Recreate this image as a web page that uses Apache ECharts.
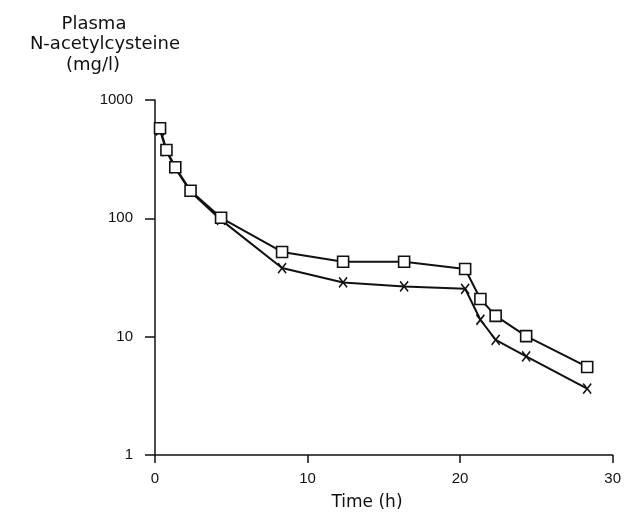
<!DOCTYPE html>
<html>
<head>
<meta charset="utf-8">
<script src="https://cdn.jsdelivr.net/npm/echarts@6/dist/echarts.min.js"></script>
<style>
  html, body { margin: 0; padding: 0; background: #fff; }
  #chart { width: 624px; height: 515px; }
</style>
</head>
<body>
<div id="chart"></div>
<script>
// sampling times (h)
var times = [0.33, 0.75, 1.33, 2.33, 4.33, 8.33, 12.33, 16.33, 20.33, 21.33, 22.33, 24.33, 28.33]
// plasma concentration (mg/l), squares
var squareValues = [577, 378, 270, 171, 101, 52, 43, 43, 37.3, 20.8, 15.0, 10.1, 5.55]
// plasma concentration (mg/l), crosses
var crossValues = [555, 370, 265, 168, 97, 38, 28.7, 26.6, 25.4, 13.9, 9.4, 6.8, 3.64]
var xTicks = [0, 10, 20, 30]
var yTicks = [1, 10, 100, 1000]
var titleLines = ['Plasma', 'N-acetylcysteine', '(mg/l)']

var tickFont = 'Liberation Sans'
var chart = echarts.init(document.getElementById('chart'))

function pairs(xs, ys) {
  return xs.map(function (x, i) { return [x, ys[i]] })
}

var titleX = [94, 105, 93]
var titleY = [24, 44, 65]

var graphics = titleLines.map(function (t, i) {
  return {
    type: 'text',
    x: titleX[i], y: titleY[i],
    style: {
      text: t, font: '18px "DejaVu Sans"', fill: '#111',
      textAlign: 'center', textVerticalAlign: 'middle'
    }
  }
})
graphics.push({
  type: 'text',
  x: 367, y: 503,
  style: {
    text: 'Time (h)', font: '17px "DejaVu Sans"', fill: '#111',
    textAlign: 'center', textVerticalAlign: 'middle'
  }
})

var option = {
  animation: false,
  backgroundColor: '#fff',
  grid: { left: 155, right: 7, top: 100, bottom: 60, containLabel: false },
  graphic: graphics,
  xAxis: {
    type: 'value',
    min: 0,
    max: 30,
    interval: 10,
    splitLine: { show: false },
    axisLine: { lineStyle: { color: '#111', width: 1.5 } },
    axisTick: { length: 8, lineStyle: { color: '#111', width: 1.5 } },
    axisLabel: {
      fontFamily: tickFont, fontSize: 15, color: '#111', margin: 16,
      formatter: function (v) { return xTicks.indexOf(v) >= 0 ? String(v) : '' }
    }
  },
  yAxis: {
    type: 'log',
    logBase: 10,
    min: 1,
    max: 1000,
    splitLine: { show: false },
    axisLine: { show: true, lineStyle: { color: '#111', width: 1.5 } },
    axisTick: { show: true, length: 10, lineStyle: { color: '#111', width: 1.5 } },
    axisLabel: {
      fontFamily: tickFont, fontSize: 15, color: '#111', margin: 22,
      formatter: function (v) { return yTicks.indexOf(Math.round(v)) >= 0 ? String(Math.round(v)) : '' }
    }
  },
  series: [
    {
      name: 'crosses',
      type: 'line',
      data: pairs(times, crossValues),
      symbol: 'path://M0,0L8,10M8,0L0,10',
      symbolSize: [8, 10],
      lineStyle: { color: '#111', width: 2 },
      itemStyle: { color: 'none', borderColor: '#111', borderWidth: 1.6 },
      z: 2
    },
    {
      name: 'squares',
      type: 'line',
      data: pairs(times, squareValues),
      symbol: 'rect',
      symbolSize: 11,
      lineStyle: { color: '#111', width: 2 },
      itemStyle: { color: '#fff', borderColor: '#111', borderWidth: 1.6 },
      z: 3
    }
  ]
}

chart.setOption(option)
</script>
</body>
</html>
